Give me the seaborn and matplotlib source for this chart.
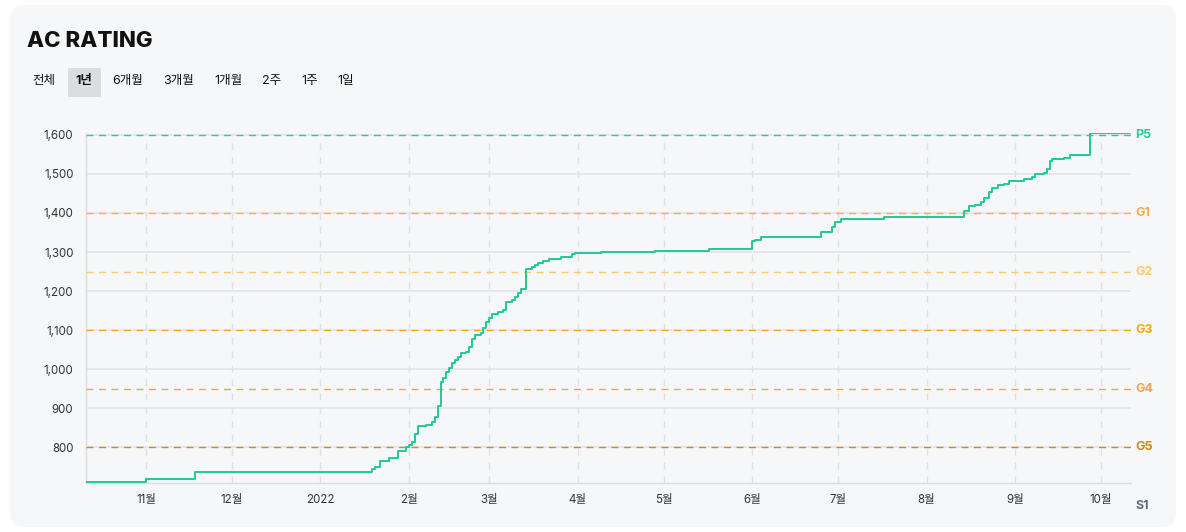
import pandas as pd
import matplotlib.pyplot as plt
from matplotlib.patches import FancyBboxPatch, Rectangle
import seaborn as sns

# rating history (date the rating changed, new rating)
dates = ['2021-10-11', '2021-11-01', '2021-11-18', '2022-01-19', '2022-01-20',
         '2022-01-22', '2022-01-25', '2022-01-28', '2022-01-31', '2022-02-01',
         '2022-02-02', '2022-02-03', '2022-02-04', '2022-02-07', '2022-02-09',
         '2022-02-10', '2022-02-11', '2022-02-12', '2022-02-13', '2022-02-14',
         '2022-02-15', '2022-02-16', '2022-02-17', '2022-02-18', '2022-02-19',
         '2022-02-21', '2022-02-22', '2022-02-23', '2022-02-24', '2022-02-26',
         '2022-02-27', '2022-02-28', '2022-03-01', '2022-03-02', '2022-03-04',
         '2022-03-06', '2022-03-07', '2022-03-09', '2022-03-10', '2022-03-11',
         '2022-03-12', '2022-03-14', '2022-03-16', '2022-03-17', '2022-03-18',
         '2022-03-20', '2022-03-22', '2022-03-26', '2022-03-30', '2022-03-31',
         '2022-04-09', '2022-04-28', '2022-05-17', '2022-06-01', '2022-06-02',
         '2022-06-04', '2022-06-25', '2022-06-27', '2022-06-29', '2022-06-30',
         '2022-07-02', '2022-07-17', '2022-08-14', '2022-08-16', '2022-08-18',
         '2022-08-20', '2022-08-21', '2022-08-23', '2022-08-24', '2022-08-26',
         '2022-08-28', '2022-08-30', '2022-09-04', '2022-09-07', '2022-09-08',
         '2022-09-11', '2022-09-12', '2022-09-13', '2022-09-14', '2022-09-18',
         '2022-09-20', '2022-09-27', '2022-10-11']
ratings = [710, 718, 736, 744, 748,
           765, 771, 790, 801, 805,
           814, 833, 855, 856, 865,
           878, 905, 967, 976, 993,
           1002, 1015, 1023, 1032, 1040,
           1044, 1056, 1076, 1087, 1092,
           1104, 1121, 1130, 1141, 1147,
           1151, 1173, 1177, 1184, 1194,
           1204, 1256, 1262, 1267, 1273,
           1277, 1281, 1288, 1295, 1298,
           1301, 1303, 1307, 1329, 1332,
           1339, 1350, 1352, 1365, 1378,
           1384, 1391, 1406, 1418, 1421,
           1427, 1438, 1455, 1463, 1472,
           1475, 1483, 1487, 1492, 1500,
           1503, 1512, 1532, 1538, 1540,
           1549, 1605, 1605]

tier_names = ['P5', 'G1', 'G2', 'G3', 'G4', 'G5']
tier_values = [1600, 1400, 1250, 1100, 950, 800]
tier_colors = ['#27cf93', '#f7ae45', '#ffc766', '#f6a61c', '#e8a84b', '#d0891c']

tabs = ['전체', '1년', '6개월', '3개월', '1개월', '2주', '1주', '1일']
tab_x = [44, 84, 128, 179, 228, 272, 310, 346]

month_ticks = ['2021-11-01', '2021-12-01', '2022-01-01', '2022-02-01', '2022-03-01',
               '2022-04-01', '2022-05-01', '2022-06-01', '2022-07-01', '2022-08-01',
               '2022-09-01', '2022-10-01']
month_labels = ['11월', '12월', '2022', '2월', '3월', '4월', '5월', '6월', '7월',
                '8월', '9월', '10월']

df = pd.DataFrame({'date': pd.to_datetime(dates), 'rating': ratings})

sns.set_style('white')
plt.rcParams['font.family'] = ['Inter', 'Noto Sans CJK KR', 'DejaVu Sans']

W, H = 1186, 532
fig = plt.figure(figsize=(W / 100, H / 100), dpi=100)
fig.patch.set_facecolor('white')

card = FancyBboxPatch((10 / W, 5 / H), 1166 / W, 522 / H,
                      boxstyle='round,pad=0,rounding_size=0.012',
                      transform=fig.transFigure, facecolor='#f6f7f9',
                      edgecolor='none', mutation_aspect=W / H, zorder=-2)
fig.patches.append(card)

fig.text(27 / W, 1 - 41 / H, 'AC RATING', fontsize=16, fontweight='heavy',
         color='#111111', va='center', ha='left')

fig.patches.append(Rectangle((68 / W, 1 - 97 / H), 33 / W, 29 / H,
                             transform=fig.transFigure, facecolor='#dcdde0',
                             edgecolor='none', zorder=-1))
for name, x in zip(tabs, tab_x):
    fig.text(x / W, 1 - 81 / H, name, fontsize=9, ha='center', va='center',
             color='#111111', fontweight='bold' if name == '1년' else 'normal')

ax = fig.add_axes([86 / W, 1 - 483 / H, 1045 / W, 350 / H])
ax.set_zorder(2)
ax.set_facecolor('none')

sns.lineplot(data=df, x='date', y='rating', ax=ax, color='#1fca93',
             linewidth=1.4, drawstyle='steps-post', estimator=None, zorder=5)

ax.set_xlim(pd.Timestamp('2021-10-11'), pd.Timestamp('2022-10-11 12:00'))
ax.set_ylim(708, 1605)

ax.set_yticks(range(800, 1601, 100))
ax.set_yticklabels([f'{v:,}' for v in range(800, 1601, 100)])
ax.set_xticks(pd.to_datetime(month_ticks))
ax.set_xticklabels(month_labels)

ax.grid(axis='y', color='#e3e4e8', linewidth=1.2, linestyle='-')
ax.grid(axis='x', color='#dfe0e3', linewidth=1, linestyle=(0, (5, 5)))
ax.set_axisbelow(True)

for s in ['top', 'right']:
    ax.spines[s].set_visible(False)
for s in ['left', 'bottom']:
    ax.spines[s].set_color('#dcdde0')
    ax.spines[s].set_linewidth(1)

ax.tick_params(axis='y', length=6, color='#dcdde0', labelsize=8.3,
               labelcolor='#333333', pad=3)
ax.tick_params(axis='x', length=0, labelsize=8.3, labelcolor='#333333', pad=8)
ax.set_xlabel('')
ax.set_ylabel('')

for name, val, col in zip(tier_names, tier_values, tier_colors):
    ax.axhline(val, color=col, linewidth=1, linestyle=(0, (5, 4)), zorder=3)
    ax.text(1.004, val, name, transform=ax.get_yaxis_transform(), color=col,
            fontsize=9, fontweight='bold', va='center', ha='left')

ax.text(1.004, -0.065, 'S1', transform=ax.transAxes, color='#5c6b83',
        fontsize=9, fontweight='bold', va='center', ha='left')

fig.savefig('out.png', dpi=100, facecolor='white')
